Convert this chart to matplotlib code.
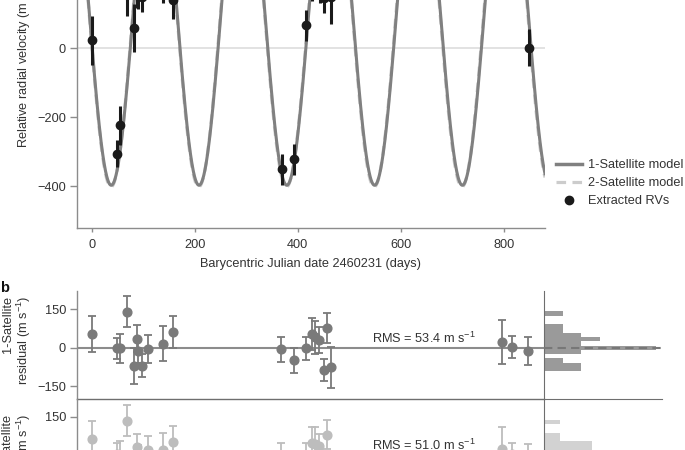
# -*- coding: utf-8 -*-

import matplotlib
matplotlib.use('Agg')
import matplotlib.pyplot as plt
from matplotlib.lines import Line2D
import numpy as np

plt.rcParams['font.family'] = ['Liberation Sans', 'DejaVu Sans']
plt.rcParams['mathtext.default'] = 'regular'
fs = 9.2
plt.rcParams['font.size'] = fs

# 观测时间 (BJD - 2460231, days)
bjd = [0, 49, 55, 69, 81, 87, 89, 97, 109, 139, 157, 369, 393, 416, 428, 434,
       443, 451, 458, 465, 798, 818, 849]

# 提取的径向速度 (m/s) 及误差
rv = [23, -305, -223, 155, 59, 170, 165, 150, 220, 197, 139, -351, -322, 67,
      200, 210, 180, 146, 250, 150, 300, 250, 2]
rv_err = [70, 40, 57, 60, 70, 52, 52, 45, 54, 67, 53, 46, 46, 45, 62, 65, 50,
          44, 57, 79, 85, 43, 53]

# 残差 (m/s)
res_1sat = [53, -3, -3, 140, -73, 35, -12, -70, -6, 16, 61, -6, -49, -3, 52,
            40, 31, -87, 77, -77, 22, 1, -14]
err_1sat = [70, 42, 58, 60, 70, 52, 47, 45, 54, 67, 61, 49, 48, 46, 62, 65, 50,
            44, 57, 79, 85, 43, 54]
res_2sat = [66, 5, 0, 135, -68, 33, -5, -62, 20, 20, 52, 0, -44, 2, 50, 44, 35,
            -80, 81, -70, 25, 5, -10]
err_2sat = err_1sat

rms_1sat = 53.4
rms_2sat = 51.0

# 模型参数
period_1 = 170.5
t_min_1 = 37.5
amp_1 = 500.0
offset_1 = 103.0
period_2 = 170.4
t_min_2 = 37.0
amp_2 = 506.0
offset_2 = 104.0

t_model = np.linspace(-29, 880, 2000)
model_1 = offset_1 - amp_1 * np.cos(2 * np.pi * (t_model - t_min_1) / period_1)
model_2 = offset_2 - amp_2 * np.cos(2 * np.pi * (t_model - t_min_2) / period_2)

W, H = 685, 450
fig = plt.figure(figsize=(6.85, 4.5), dpi=100)

spine_c = '#8c8c8c'
text_c = '#333333'


def px_axes(x0, x1, ytop, ybot):
    ax = fig.add_axes([x0 / W, 1 - ybot / H, (x1 - x0) / W, (ybot - ytop) / H])
    ax.patch.set_visible(False)
    return ax


def style(ax, xticks=True):
    for s in ['top', 'right']:
        ax.spines[s].set_visible(False)
    for s in ['left', 'bottom']:
        ax.spines[s].set_color(spine_c)
        ax.spines[s].set_linewidth(1.0)
    ax.tick_params(axis='y', length=5, width=1, color=spine_c, labelcolor=text_c,
                   labelsize=fs, pad=3)
    ax.tick_params(axis='x', length=3, width=1, color=spine_c, labelcolor=text_c,
                   labelsize=fs, pad=5)
    if not xticks:
        ax.tick_params(axis='x', length=0, labelbottom=False)


# ---- a: 径向速度 ----
ylo, yhi = -520, 700
px_per = 69 / 200
ax_a = px_axes(77, 545, 227.7 - (yhi - ylo) * px_per, 227.7)
ax_a.axhline(0, color='#dddddd', lw=1.2, zorder=0)
ax_a.plot(t_model, model_2, color='#cccccc', lw=2.3, ls=(0, (3, 2)), zorder=1)
ax_a.plot(t_model, model_1, color='#808080', lw=2.2, zorder=2)
ax_a.errorbar(bjd, rv, yerr=rv_err, fmt='o', color='#1a1a1a', ms=6,
              elinewidth=2.2, capsize=0, zorder=3)
ax_a.set_xlim(-29, 880)
ax_a.set_ylim(ylo, yhi)
ax_a.set_xticks([0, 200, 400, 600, 800])
ax_a.set_yticks([-400, -200, 0, 200, 400, 600])
ax_a.set_yticklabels(['\u2212400', '\u2212200', '0', '200', '400', '600'])
style(ax_a)
ax_a.set_xlabel('Barycentric Julian date 2460231 (days)', color=text_c, labelpad=5)
ax_a.set_ylabel('Relative radial velocity (m s$^{-1}$)', color=text_c)
ax_a.yaxis.set_label_coords(-0.094, 0.393)

handles = [Line2D([], [], color='#808080', lw=2.5),
           Line2D([], [], color='#cccccc', lw=2.3, ls=(0, (3, 2))),
           Line2D([], [], color='#1a1a1a', marker='o', ls='none', ms=6)]
fig.legend(handles, ['1-Satellite model', '2-Satellite model', 'Extracted RVs'],
           loc='upper left', bbox_to_anchor=(550 / W, 1 - 153 / H), frameon=False,
           borderpad=0, handlelength=2.0, handletextpad=0.5, labelspacing=0.47,
           labelcolor=text_c, fontsize=fs)

# ---- b: 残差 ----
r_lo, r_hi = -200, 220
r_px = 38.5 / 150
panel_h = (r_hi - r_lo) * r_px
panels = [
    (res_1sat, err_1sat, rms_1sat, '1-Satellite', '#7a7a7a', '#9a9a9a', 399, 16.6, -91.3, 0.545),
    (res_2sat, err_2sat, rms_2sat, '2-Satellite', '#bdbdbd', '#d2d2d2', 399 + panel_h, 16.4, -92.2, 0.45),
]
for res, err, rms, name, pc, hc, ybot, bw, b0, lab_y in panels:
    ax_r = px_axes(77, 544, ybot - panel_h, ybot)
    ax_r.axhline(0, color='#8c8c8c', lw=1.5, zorder=1)
    ax_r.errorbar(bjd, res, yerr=err, fmt='o', color=pc, ms=6.3, elinewidth=1.3,
                  capsize=3, capthick=1.3, zorder=2)
    ax_r.set_xlim(-29, 880)
    ax_r.set_ylim(r_lo, r_hi)
    ax_r.set_yticks([-150, 0, 150])
    ax_r.set_yticklabels(['\u2212150', '0', '150'])
    style(ax_r, xticks=False)
    ax_r.spines['bottom'].set_color('#6e6e6e')
    ax_r.set_ylabel(name + '\nresidual (m s$^{-1}$)', color=text_c, linespacing=1.05,
                    multialignment='right')
    ax_r.yaxis.set_label_coords(-0.095, lab_y)
    ax_r.text(546, 8, 'RMS = %.1f m s$^{-1}$' % rms, color=text_c, fontsize=fs,
              va='bottom', ha='left')

    ax_h = px_axes(544, 662, ybot - panel_h, ybot)
    bins = b0 + bw * np.arange(15)
    counts, _, _ = ax_h.hist(res, bins=bins, orientation='horizontal', color=hc,
                             edgecolor='none')
    ax_h.axhline(0, color='#777777', lw=1.5, ls=(0, (4, 2.5)), zorder=3)
    ax_h.set_ylim(r_lo, r_hi)
    ax_h.set_xlim(0, counts.max() * 1.05)
    for s in ['top', 'right']:
        ax_h.spines[s].set_visible(False)
    ax_h.spines['left'].set_color('#6e6e6e')
    ax_h.spines['bottom'].set_color('#6e6e6e')
    ax_h.set_xticks([])
    ax_h.set_yticks([])

fig.text(0, 1 - 288 / H, 'b', fontweight='bold', fontsize=10.5, va='center',
         ha='left', color='#111111')

plt.savefig('out.png', dpi=100)
